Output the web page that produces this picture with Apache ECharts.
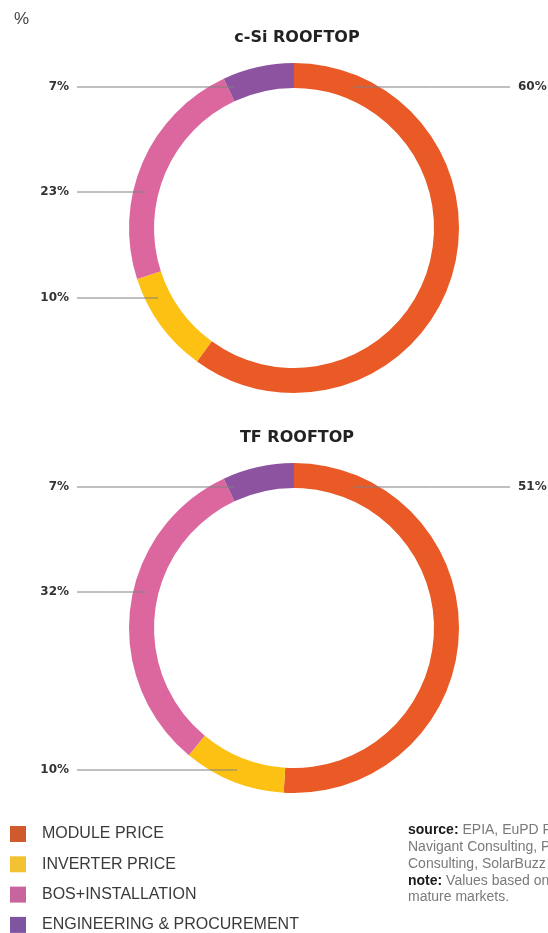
<!DOCTYPE html>
<html>
<head>
<meta charset="utf-8">
<script src="https://cdn.jsdelivr.net/npm/echarts@6/dist/echarts.min.js"></script>
<style>
  html, body { margin: 0; padding: 0; background: #fff; }
  #chart { width: 548px; height: 933px; }
</style>
</head>
<body>
<div id="chart"></div>
<script>
// cost breakdown categories
const categories = ["MODULE PRICE", "INVERTER PRICE", "BOS+INSTALLATION", "ENGINEERING & PROCUREMENT"];
const csiValues = [60, 10, 23, 7];
const tfValues = [51, 10, 32, 7];
const chartTitles = ["c-Si ROOFTOP", "TF ROOFTOP"];

const ringColors = ["#E95A26", "#FDC113", "#DC679E", "#8E53A0"];
const legendColors = ["#CF5A2C", "#F2C230", "#C8649E", "#7D55A0"];

// layout
const cx = 294;
const centersY = [228, 628];
const midR = 153;
// vertical position of each label row (per chart, per slice)
const labelRowY = [
  [87, 298, 192, 87],
  [487, 770, 592, 487]
];

const chart = echarts.init(document.getElementById("chart"));

// the coloured ring
function makeRing(values, idx) {
  return {
    type: "pie",
    name: chartTitles[idx],
    center: [cx, centersY[idx]],
    radius: [140, 165],
    startAngle: 90,
    clockwise: true,
    silent: true,
    z: 2,
    data: values.map((v, i) => ({
      name: categories[i],
      value: v,
      itemStyle: { color: ringColors[i] }
    })),
    label: { show: false },
    labelLine: { show: false }
  };
}

// same slices, transparent, only to carry labels + lines above the ring
function makeLabels(values, idx) {
  return {
    type: "pie",
    name: chartTitles[idx] + " labels",
    center: [cx, centersY[idx]],
    radius: [140, 165],
    startAngle: 90,
    clockwise: true,
    silent: true,
    z: 5,
    data: values.map((v, i) => ({
      name: categories[i],
      value: v,
      itemStyle: { color: "rgba(0,0,0,0)" }
    })),
    label: {
      show: true,
      position: "outside",
      formatter: "{c}%",
      fontFamily: "DejaVu Sans",
      fontWeight: "bold",
      fontSize: 12,
      color: "#333"
    },
    labelLine: {
      show: true,
      lineStyle: { color: "#808080", width: 1 }
    },
    labelLayout: function (params) {
      const s = params.seriesIndex === 2 ? 0 : 1;
      const i = params.dataIndex;
      const y = labelRowY[s][i];
      const dy = y - centersY[s];
      const dx = Math.sqrt(Math.max(midR * midR - dy * dy, 0));
      const right = i === 0;
      const inner = right ? cx + dx : cx - dx;
      const outer = right ? 510 : 77;
      return {
        x: right ? 518 : 69,
        y: y,
        align: right ? "left" : "right",
        verticalAlign: "middle",
        labelLinePoints: [[inner, y], [(inner + outer) / 2, y], [outer, y]]
      };
    }
  };
}

const option = {
  backgroundColor: "#fff",
  animation: false,
  title: [
    {
      text: "%",
      left: 9,
      top: 6,
      textStyle: { fontFamily: "Liberation Sans", fontSize: 17, fontWeight: "normal", color: "#444" }
    },
    {
      text: chartTitles[0],
      left: cx - 2,
      top: 25,
      textAlign: "center",
      textStyle: { fontFamily: "DejaVu Sans", fontSize: 16, fontWeight: "bold", color: "#222" }
    },
    {
      text: chartTitles[1],
      left: cx - 2,
      top: 425,
      textAlign: "center",
      textStyle: { fontFamily: "DejaVu Sans", fontSize: 16, fontWeight: "bold", color: "#222" }
    },
    {
      text: "{b|source:} EPIA, EuPD Research,\nNavigant Consulting, Photon\nConsulting, SolarBuzz\n{b|note:} Values based on\nmature markets.",
      left: 408,
      top: 822,
      padding: 0,
      textStyle: {
        fontFamily: "Liberation Sans",
        fontSize: 14,
        fontWeight: "normal",
        color: "#7a7a7a",
        lineHeight: 16.8,
        rich: {
          b: { fontFamily: "Liberation Sans", fontSize: 14, fontWeight: "bold", color: "#1a1a1a", lineHeight: 16.8 }
        }
      }
    }
  ],
  legend: {
    orient: "vertical",
    left: 10,
    top: 826,
    height: 140,
    padding: 0,
    icon: "rect",
    itemWidth: 16,
    itemHeight: 16,
    itemGap: 14.3,
    selectedMode: false,
    data: categories.map((c, i) => ({ name: c, itemStyle: { color: legendColors[i] } })),
    textStyle: {
      fontFamily: "Liberation Sans",
      fontSize: 16,
      lineHeight: 16,
      color: "#3a3a3a",
      padding: [0, 0, 0, 11]
    }
  },
  series: [
    makeRing(csiValues, 0),
    makeRing(tfValues, 1),
    makeLabels(csiValues, 0),
    makeLabels(tfValues, 1)
  ]
};

chart.setOption(option);
</script>
</body>
</html>
